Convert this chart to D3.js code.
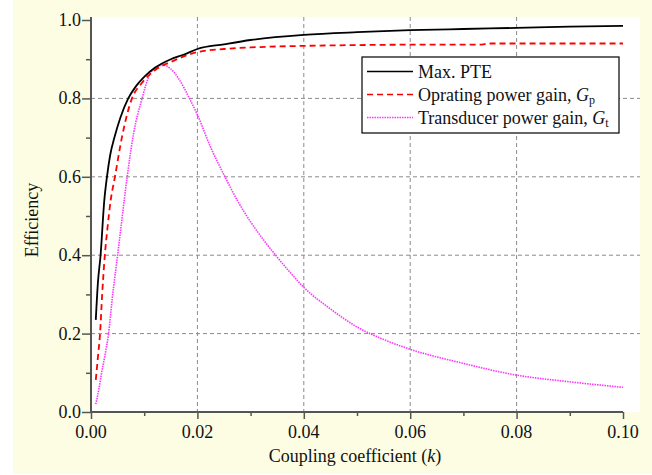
<!DOCTYPE html>
<html>
<head>
<meta charset="UTF-8">
<script src="https://d3js.org/d3.v7.min.js"></script>
<style>
  body { margin: 0; background: #fff; }
  svg text { font-family: "Liberation Serif", "Times New Roman", serif; }
</style>
</head>
<body>
<svg></svg>
<script>
// Max. PTE
const kPTE = [0.0009, 0.0013, 0.0018, 0.0025, 0.003, 0.0036, 0.0044, 0.0055, 0.007, 0.0085, 0.01, 0.012, 0.015, 0.0175, 0.02, 0.025, 0.03, 0.04, 0.05, 0.06, 0.07, 0.08, 0.09, 0.1];
const ePTE = [0.235, 0.33, 0.40, 0.54, 0.60, 0.655, 0.70, 0.75, 0.80, 0.832, 0.855, 0.878, 0.90, 0.912, 0.926, 0.938, 0.949, 0.962, 0.969, 0.974, 0.977, 0.980, 0.983, 0.985];
// Operating power gain Gp
const kGp = [0.0009, 0.0013, 0.0017, 0.0021, 0.0026, 0.0031, 0.0037, 0.0045, 0.0058, 0.0077, 0.0095, 0.012, 0.015, 0.02, 0.025, 0.03, 0.04, 0.05, 0.06, 0.073, 0.075, 0.08, 0.09, 0.1];
const eGp = [0.082, 0.14, 0.20, 0.30, 0.40, 0.47, 0.54, 0.60, 0.70, 0.80, 0.838, 0.872, 0.893, 0.918, 0.926, 0.930, 0.934, 0.936, 0.937, 0.937, 0.940, 0.940, 0.940, 0.940];
// Transducer power gain Gt
const kGt = [0.0009, 0.0015, 0.002, 0.0027, 0.0033, 0.004, 0.005, 0.0058, 0.0068, 0.008, 0.0096, 0.011, 0.0125, 0.0136, 0.015, 0.0165, 0.0185, 0.02, 0.0225, 0.025, 0.0275, 0.03, 0.0325, 0.035, 0.0375, 0.04, 0.045, 0.05, 0.055, 0.06, 0.07, 0.08, 0.09, 0.1];
const eGt = [0.02, 0.06, 0.10, 0.15, 0.20, 0.29, 0.40, 0.49, 0.60, 0.71, 0.80, 0.86, 0.88, 0.885, 0.875, 0.85, 0.80, 0.758, 0.675, 0.605, 0.54, 0.485, 0.438, 0.395, 0.355, 0.318, 0.263, 0.217, 0.185, 0.16, 0.124, 0.094, 0.077, 0.063];

const xMajor = [0, 0.02, 0.04, 0.06, 0.08, 0.1];
const xMinor = [0.01, 0.03, 0.05, 0.07, 0.09];
const yMajor = [0, 0.2, 0.4, 0.6, 0.8, 1.0];
const yMinor = [0.1, 0.3, 0.5, 0.7, 0.9];

let width = 652, height = 475;
let svg = d3.select("svg").attr("width", width).attr("height", height);

let x = d3.scaleLinear().domain([0, 0.1]).range([91, 623]);
let y = d3.scaleLinear().domain([0, 1]).range([412, 20]);

// background
svg.append("rect").attr("x", 13).attr("y", 0).attr("width", 639).attr("height", 474).attr("fill", "#fdfde4");
svg.append("rect").attr("x", 91).attr("y", 17).attr("width", 549).attr("height", 395).attr("fill", "#fff");

// grid
svg.append("g").selectAll("line").data(xMajor.slice(1, 5)).join("line")
  .attr("x1", d => x(d)).attr("x2", d => x(d)).attr("y1", 17).attr("y2", 412)
  .attr("stroke", "#8a8a8a").attr("stroke-width", 1).attr("stroke-dasharray", "4,3");
svg.append("g").selectAll("line").data(yMajor.slice(1, 5)).join("line")
  .attr("x1", 91).attr("x2", 640).attr("y1", d => y(d)).attr("y2", d => y(d))
  .attr("stroke", "#8a8a8a").attr("stroke-width", 1).attr("stroke-dasharray", "4,3");

// curves
let line = d3.line().x(d => x(d[0])).y(d => y(d[1])).curve(d3.curveMonotoneX);
let series = [
  { k: kPTE, e: ePTE, color: "#000", dash: null, w: 1.8 },
  { k: kGp, e: eGp, color: "#ff0000", dash: "6,4", w: 1.8 },
  { k: kGt, e: eGt, color: "#ff33ff", dash: "1.5,1", w: 1.6 }
];
series.slice().reverse().forEach(s => {
  svg.append("path")
    .datum(s.k.map((k, i) => [k, s.e[i]]))
    .attr("d", line)
    .attr("fill", "none")
    .attr("stroke", s.color)
    .attr("stroke-width", s.w)
    .attr("stroke-dasharray", s.dash);
});

// axes (tick marks from d3.axis, labels drawn as plain text)
let axisColor = "#555";
function ticks(axis, tr) {
  let g = svg.append("g").attr("transform", tr).call(axis);
  g.select(".domain").remove();
  g.selectAll(".tick text").remove();
  g.selectAll(".tick line").attr("stroke", axisColor).attr("stroke-width", 1.5);
}
ticks(d3.axisBottom(x).tickValues(xMajor).tickFormat("").tickSize(7).tickSizeOuter(0), "translate(0,412)");
ticks(d3.axisBottom(x).tickValues(xMinor).tickFormat("").tickSize(4).tickSizeOuter(0), "translate(0,412)");
ticks(d3.axisLeft(y).tickValues(yMajor).tickFormat("").tickSize(9).tickSizeOuter(0), "translate(91,0)");
ticks(d3.axisLeft(y).tickValues(yMinor).tickFormat("").tickSize(5).tickSizeOuter(0), "translate(91,0)");

svg.append("g").selectAll("text").data(xMajor).join("text")
  .attr("x", d => x(d)).attr("y", 438).attr("text-anchor", "middle")
  .style("font-size", "18px").attr("fill", "#111").text(d3.format(".2f"));
svg.append("g").selectAll("text").data(yMajor).join("text")
  .attr("x", 81).attr("y", d => y(d) + 6).attr("text-anchor", "end")
  .style("font-size", "18px").attr("fill", "#111").text(d3.format(".1f"));

svg.append("line").attr("x1", 90).attr("x2", 623).attr("y1", 412).attr("y2", 412).attr("stroke", axisColor).attr("stroke-width", 2);
svg.append("line").attr("x1", 91).attr("x2", 91).attr("y1", 17).attr("y2", 413).attr("stroke", axisColor).attr("stroke-width", 2);

// axis titles
let xt = svg.append("text").attr("x", 355).attr("y", 462).attr("text-anchor", "middle")
  .style("font-size", "18px").attr("fill", "#111");
xt.append("tspan").text("Coupling coefficient (");
xt.append("tspan").style("font-style", "italic").text("k");
xt.append("tspan").text(")");

svg.append("text").attr("transform", "translate(38,220) rotate(-90)").attr("text-anchor", "middle")
  .style("font-size", "18px").attr("fill", "#111").text("Efficiency");

// legend
let lg = svg.append("g");
lg.append("rect").attr("x", 362).attr("y", 57).attr("width", 257).attr("height", 76)
  .attr("fill", "#fff").attr("stroke", "#000").attr("stroke-width", 1.2);
let labels = [
  ["Max. PTE", null, null],
  ["Oprating power gain, ", "G", "p"],
  ["Transducer power gain, ", "G", "t"]
];
labels.forEach((l, i) => {
  let s = series[i];
  let yy = 71.5 + i * 23;
  lg.append("line").attr("x1", 367).attr("x2", 413).attr("y1", yy).attr("y2", yy)
    .attr("stroke", s.color).attr("stroke-width", 1.3).attr("stroke-dasharray", s.dash);
  let t = lg.append("text").attr("x", 418).attr("y", yy + 6.5).style("font-size", "18px").attr("fill", "#111");
  t.append("tspan").text(l[0]);
  if (l[1]) {
    t.append("tspan").style("font-style", "italic").text(l[1]);
    t.append("tspan").style("font-size", "12px").attr("dy", 3).text(l[2]);
  }
});
</script>
</body>
</html>
